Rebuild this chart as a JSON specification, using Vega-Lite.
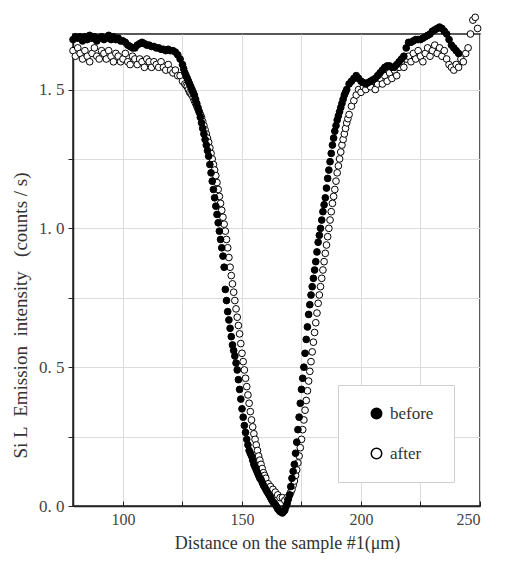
{
 "$schema": "https://vega.github.io/schema/vega-lite/v6.json",
 "width": 407, "height": 472,
 "autosize": "none",
 "padding": {"left": 73, "top": 34, "right": 37, "bottom": 59},
 "background": "white",
 "config": {"view": {"stroke": "#222", "strokeWidth": 1.5}, "font": "Liberation Serif"},
 "data": {"values": [
  {"distance":79,"intensity":1.64,"state":"after"},{"distance":80,"intensity":1.62,"state":"after"},{"distance":81,"intensity":1.65,"state":"after"},{"distance":82,"intensity":1.63,"state":"after"},{"distance":83,"intensity":1.61,"state":"after"},{"distance":84,"intensity":1.64,"state":"after"},{"distance":85,"intensity":1.62,"state":"after"},{"distance":86,"intensity":1.60,"state":"after"},{"distance":87,"intensity":1.63,"state":"after"},{"distance":88,"intensity":1.65,"state":"after"},{"distance":89,"intensity":1.62,"state":"after"},{"distance":90,"intensity":1.61,"state":"after"},{"distance":91,"intensity":1.64,"state":"after"},{"distance":92,"intensity":1.63,"state":"after"},{"distance":93,"intensity":1.61,"state":"after"},{"distance":94,"intensity":1.64,"state":"after"},{"distance":95,"intensity":1.62,"state":"after"},{"distance":96,"intensity":1.60,"state":"after"},{"distance":97,"intensity":1.63,"state":"after"},{"distance":98,"intensity":1.62,"state":"after"},{"distance":99,"intensity":1.60,"state":"after"},{"distance":100,"intensity":1.61,"state":"after"},{"distance":101,"intensity":1.63,"state":"after"},{"distance":102,"intensity":1.60,"state":"after"},{"distance":103,"intensity":1.59,"state":"after"},{"distance":104,"intensity":1.62,"state":"after"},{"distance":105,"intensity":1.61,"state":"after"},{"distance":106,"intensity":1.59,"state":"after"},{"distance":107,"intensity":1.61,"state":"after"},{"distance":108,"intensity":1.60,"state":"after"},{"distance":109,"intensity":1.58,"state":"after"},{"distance":110,"intensity":1.61,"state":"after"},{"distance":111,"intensity":1.60,"state":"after"},{"distance":112,"intensity":1.58,"state":"after"},{"distance":113,"intensity":1.60,"state":"after"},{"distance":114,"intensity":1.59,"state":"after"},{"distance":115,"intensity":1.58,"state":"after"},{"distance":116,"intensity":1.60,"state":"after"},{"distance":117,"intensity":1.58,"state":"after"},{"distance":118,"intensity":1.57,"state":"after"},{"distance":119,"intensity":1.59,"state":"after"},{"distance":120,"intensity":1.57,"state":"after"},{"distance":121,"intensity":1.56,"state":"after"},{"distance":122,"intensity":1.57,"state":"after"},{"distance":123,"intensity":1.55,"state":"after"},{"distance":124,"intensity":1.55,"state":"after"},{"distance":125,"intensity":1.53,"state":"after"},
  {"distance":126,"intensity":1.52,"state":"after"},{"distance":126.5,"intensity":1.515,"state":"after"},{"distance":127,"intensity":1.51,"state":"after"},{"distance":127.5,"intensity":1.50,"state":"after"},{"distance":128,"intensity":1.49,"state":"after"},{"distance":128.5,"intensity":1.485,"state":"after"},{"distance":129,"intensity":1.48,"state":"after"},{"distance":129.5,"intensity":1.47,"state":"after"},{"distance":130,"intensity":1.46,"state":"after"},{"distance":130.5,"intensity":1.45,"state":"after"},{"distance":131,"intensity":1.44,"state":"after"},{"distance":131.5,"intensity":1.43,"state":"after"},{"distance":132,"intensity":1.42,"state":"after"},{"distance":132.5,"intensity":1.41,"state":"after"},{"distance":133,"intensity":1.40,"state":"after"},{"distance":133.5,"intensity":1.385,"state":"after"},{"distance":134,"intensity":1.37,"state":"after"},{"distance":134.5,"intensity":1.355,"state":"after"},{"distance":135,"intensity":1.34,"state":"after"},{"distance":135.5,"intensity":1.325,"state":"after"},{"distance":136,"intensity":1.31,"state":"after"},{"distance":136.5,"intensity":1.29,"state":"after"},{"distance":137,"intensity":1.27,"state":"after"},{"distance":137.5,"intensity":1.25,"state":"after"},{"distance":138,"intensity":1.23,"state":"after"},{"distance":138.5,"intensity":1.21,"state":"after"},{"distance":139,"intensity":1.19,"state":"after"},{"distance":139.5,"intensity":1.165,"state":"after"},{"distance":140,"intensity":1.14,"state":"after"},{"distance":140.5,"intensity":1.115,"state":"after"},{"distance":141,"intensity":1.09,"state":"after"},{"distance":141.5,"intensity":1.065,"state":"after"},{"distance":142,"intensity":1.04,"state":"after"},{"distance":142.5,"intensity":1.015,"state":"after"},{"distance":143,"intensity":0.99,"state":"after"},{"distance":143.5,"intensity":0.96,"state":"after"},{"distance":144,"intensity":0.93,"state":"after"},{"distance":144.5,"intensity":0.895,"state":"after"},{"distance":145,"intensity":0.86,"state":"after"},{"distance":145.5,"intensity":0.83,"state":"after"},{"distance":146,"intensity":0.80,"state":"after"},{"distance":146.5,"intensity":0.77,"state":"after"},{"distance":147,"intensity":0.74,"state":"after"},{"distance":147.5,"intensity":0.71,"state":"after"},{"distance":148,"intensity":0.68,"state":"after"},{"distance":148.5,"intensity":0.65,"state":"after"},{"distance":149,"intensity":0.62,"state":"after"},{"distance":149.5,"intensity":0.585,"state":"after"},{"distance":150,"intensity":0.55,"state":"after"},{"distance":150.5,"intensity":0.52,"state":"after"},{"distance":151,"intensity":0.49,"state":"after"},{"distance":151.5,"intensity":0.46,"state":"after"},{"distance":152,"intensity":0.43,"state":"after"},{"distance":152.5,"intensity":0.40,"state":"after"},{"distance":153,"intensity":0.37,"state":"after"},{"distance":153.5,"intensity":0.34,"state":"after"},{"distance":154,"intensity":0.31,"state":"after"},{"distance":154.5,"intensity":0.285,"state":"after"},{"distance":155,"intensity":0.26,"state":"after"},{"distance":155.5,"intensity":0.24,"state":"after"},{"distance":156,"intensity":0.22,"state":"after"},{"distance":156.5,"intensity":0.20,"state":"after"},{"distance":157,"intensity":0.18,"state":"after"},{"distance":157.5,"intensity":0.165,"state":"after"},{"distance":158,"intensity":0.15,"state":"after"},{"distance":158.5,"intensity":0.135,"state":"after"},{"distance":159,"intensity":0.12,"state":"after"},{"distance":159.5,"intensity":0.11,"state":"after"},{"distance":160,"intensity":0.10,"state":"after"},{"distance":161,"intensity":0.08,"state":"after"},{"distance":162,"intensity":0.07,"state":"after"},{"distance":163,"intensity":0.06,"state":"after"},{"distance":164,"intensity":0.05,"state":"after"},{"distance":165,"intensity":0.04,"state":"after"},{"distance":166,"intensity":0.03,"state":"after"},{"distance":167,"intensity":0.03,"state":"after"},{"distance":168,"intensity":0.02,"state":"after"},{"distance":169,"intensity":0.03,"state":"after"},
  {"distance":170,"intensity":0.04,"state":"after"},{"distance":170.5,"intensity":0.05,"state":"after"},{"distance":171,"intensity":0.06,"state":"after"},{"distance":171.5,"intensity":0.075,"state":"after"},{"distance":172,"intensity":0.09,"state":"after"},{"distance":172.5,"intensity":0.11,"state":"after"},{"distance":173,"intensity":0.13,"state":"after"},{"distance":173.5,"intensity":0.155,"state":"after"},{"distance":174,"intensity":0.18,"state":"after"},{"distance":174.5,"intensity":0.21,"state":"after"},{"distance":175,"intensity":0.24,"state":"after"},{"distance":175.5,"intensity":0.275,"state":"after"},{"distance":176,"intensity":0.31,"state":"after"},{"distance":176.5,"intensity":0.345,"state":"after"},{"distance":177,"intensity":0.38,"state":"after"},{"distance":177.5,"intensity":0.415,"state":"after"},{"distance":178,"intensity":0.45,"state":"after"},{"distance":178.5,"intensity":0.485,"state":"after"},{"distance":179,"intensity":0.52,"state":"after"},{"distance":179.5,"intensity":0.555,"state":"after"},{"distance":180,"intensity":0.59,"state":"after"},{"distance":180.5,"intensity":0.625,"state":"after"},{"distance":181,"intensity":0.66,"state":"after"},{"distance":181.5,"intensity":0.695,"state":"after"},{"distance":182,"intensity":0.73,"state":"after"},{"distance":182.5,"intensity":0.76,"state":"after"},{"distance":183,"intensity":0.79,"state":"after"},{"distance":183.5,"intensity":0.82,"state":"after"},{"distance":184,"intensity":0.85,"state":"after"},{"distance":184.5,"intensity":0.88,"state":"after"},{"distance":185,"intensity":0.91,"state":"after"},{"distance":185.5,"intensity":0.94,"state":"after"},{"distance":186,"intensity":0.97,"state":"after"},{"distance":186.5,"intensity":1.00,"state":"after"},{"distance":187,"intensity":1.03,"state":"after"},{"distance":187.5,"intensity":1.06,"state":"after"},{"distance":188,"intensity":1.09,"state":"after"},{"distance":188.5,"intensity":1.115,"state":"after"},{"distance":189,"intensity":1.14,"state":"after"},{"distance":189.5,"intensity":1.17,"state":"after"},{"distance":190,"intensity":1.20,"state":"after"},{"distance":190.5,"intensity":1.225,"state":"after"},{"distance":191,"intensity":1.25,"state":"after"},{"distance":191.5,"intensity":1.275,"state":"after"},{"distance":192,"intensity":1.30,"state":"after"},{"distance":192.5,"intensity":1.32,"state":"after"},{"distance":193,"intensity":1.34,"state":"after"},{"distance":193.5,"intensity":1.36,"state":"after"},{"distance":194,"intensity":1.38,"state":"after"},{"distance":194.5,"intensity":1.395,"state":"after"},{"distance":195,"intensity":1.41,"state":"after"},{"distance":196,"intensity":1.44,"state":"after"},{"distance":197,"intensity":1.46,"state":"after"},{"distance":198,"intensity":1.48,"state":"after"},{"distance":199,"intensity":1.50,"state":"after"},{"distance":200,"intensity":1.49,"state":"after"},{"distance":201,"intensity":1.51,"state":"after"},{"distance":202,"intensity":1.50,"state":"after"},{"distance":203,"intensity":1.52,"state":"after"},{"distance":204,"intensity":1.51,"state":"after"},{"distance":205,"intensity":1.53,"state":"after"},{"distance":206,"intensity":1.50,"state":"after"},{"distance":207,"intensity":1.52,"state":"after"},{"distance":208,"intensity":1.54,"state":"after"},{"distance":209,"intensity":1.52,"state":"after"},{"distance":210,"intensity":1.55,"state":"after"},{"distance":211,"intensity":1.53,"state":"after"},{"distance":212,"intensity":1.56,"state":"after"},{"distance":213,"intensity":1.54,"state":"after"},{"distance":214,"intensity":1.57,"state":"after"},{"distance":215,"intensity":1.55,"state":"after"},{"distance":216,"intensity":1.58,"state":"after"},{"distance":217,"intensity":1.60,"state":"after"},{"distance":218,"intensity":1.58,"state":"after"},{"distance":219,"intensity":1.61,"state":"after"},{"distance":220,"intensity":1.62,"state":"after"},{"distance":221,"intensity":1.60,"state":"after"},{"distance":222,"intensity":1.63,"state":"after"},{"distance":223,"intensity":1.61,"state":"after"},{"distance":224,"intensity":1.64,"state":"after"},{"distance":225,"intensity":1.62,"state":"after"},{"distance":226,"intensity":1.60,"state":"after"},{"distance":227,"intensity":1.63,"state":"after"},{"distance":228,"intensity":1.65,"state":"after"},{"distance":229,"intensity":1.62,"state":"after"},{"distance":230,"intensity":1.64,"state":"after"},{"distance":231,"intensity":1.66,"state":"after"},{"distance":232,"intensity":1.63,"state":"after"},{"distance":233,"intensity":1.65,"state":"after"},{"distance":234,"intensity":1.62,"state":"after"},{"distance":235,"intensity":1.64,"state":"after"},{"distance":236,"intensity":1.61,"state":"after"},{"distance":237,"intensity":1.59,"state":"after"},{"distance":238,"intensity":1.58,"state":"after"},{"distance":239,"intensity":1.57,"state":"after"},{"distance":240,"intensity":1.59,"state":"after"},{"distance":241,"intensity":1.58,"state":"after"},{"distance":242,"intensity":1.61,"state":"after"},{"distance":243,"intensity":1.60,"state":"after"},{"distance":244,"intensity":1.63,"state":"after"},{"distance":245,"intensity":1.65,"state":"after"},{"distance":246,"intensity":1.70,"state":"after"},{"distance":247,"intensity":1.75,"state":"after"},{"distance":248,"intensity":1.76,"state":"after"},{"distance":249,"intensity":1.72,"state":"after"},
  {"distance":79,"intensity":1.68,"state":"before"},{"distance":80,"intensity":1.69,"state":"before"},{"distance":81,"intensity":1.685,"state":"before"},{"distance":82,"intensity":1.69,"state":"before"},{"distance":83,"intensity":1.675,"state":"before"},{"distance":84,"intensity":1.69,"state":"before"},{"distance":85,"intensity":1.68,"state":"before"},{"distance":86,"intensity":1.695,"state":"before"},{"distance":87,"intensity":1.685,"state":"before"},{"distance":88,"intensity":1.69,"state":"before"},{"distance":89,"intensity":1.675,"state":"before"},{"distance":90,"intensity":1.685,"state":"before"},{"distance":91,"intensity":1.69,"state":"before"},{"distance":92,"intensity":1.68,"state":"before"},{"distance":93,"intensity":1.685,"state":"before"},{"distance":94,"intensity":1.695,"state":"before"},{"distance":95,"intensity":1.68,"state":"before"},{"distance":96,"intensity":1.69,"state":"before"},{"distance":97,"intensity":1.68,"state":"before"},{"distance":98,"intensity":1.685,"state":"before"},{"distance":99,"intensity":1.675,"state":"before"},{"distance":100,"intensity":1.675,"state":"before"},{"distance":101,"intensity":1.67,"state":"before"},{"distance":102,"intensity":1.66,"state":"before"},{"distance":103,"intensity":1.655,"state":"before"},{"distance":104,"intensity":1.65,"state":"before"},{"distance":105,"intensity":1.65,"state":"before"},{"distance":106,"intensity":1.66,"state":"before"},{"distance":107,"intensity":1.665,"state":"before"},{"distance":108,"intensity":1.67,"state":"before"},{"distance":109,"intensity":1.665,"state":"before"},{"distance":110,"intensity":1.66,"state":"before"},{"distance":111,"intensity":1.66,"state":"before"},{"distance":112,"intensity":1.655,"state":"before"},{"distance":113,"intensity":1.655,"state":"before"},{"distance":114,"intensity":1.65,"state":"before"},{"distance":115,"intensity":1.65,"state":"before"},{"distance":116,"intensity":1.645,"state":"before"},{"distance":117,"intensity":1.645,"state":"before"},{"distance":118,"intensity":1.64,"state":"before"},{"distance":119,"intensity":1.645,"state":"before"},{"distance":120,"intensity":1.64,"state":"before"},{"distance":121,"intensity":1.64,"state":"before"},{"distance":122,"intensity":1.635,"state":"before"},{"distance":123,"intensity":1.625,"state":"before"},{"distance":124,"intensity":1.61,"state":"before"},
  {"distance":125,"intensity":1.59,"state":"before"},{"distance":125.5,"intensity":1.575,"state":"before"},{"distance":126,"intensity":1.56,"state":"before"},{"distance":126.5,"intensity":1.55,"state":"before"},{"distance":127,"intensity":1.54,"state":"before"},{"distance":127.5,"intensity":1.53,"state":"before"},{"distance":128,"intensity":1.52,"state":"before"},{"distance":128.5,"intensity":1.51,"state":"before"},{"distance":129,"intensity":1.50,"state":"before"},{"distance":129.5,"intensity":1.49,"state":"before"},{"distance":130,"intensity":1.48,"state":"before"},{"distance":130.5,"intensity":1.465,"state":"before"},{"distance":131,"intensity":1.45,"state":"before"},{"distance":131.5,"intensity":1.435,"state":"before"},{"distance":132,"intensity":1.42,"state":"before"},{"distance":132.5,"intensity":1.40,"state":"before"},{"distance":133,"intensity":1.38,"state":"before"},{"distance":133.5,"intensity":1.36,"state":"before"},{"distance":134,"intensity":1.34,"state":"before"},{"distance":134.5,"intensity":1.32,"state":"before"},{"distance":135,"intensity":1.30,"state":"before"},{"distance":135.5,"intensity":1.28,"state":"before"},{"distance":136,"intensity":1.26,"state":"before"},{"distance":136.5,"intensity":1.23,"state":"before"},{"distance":137,"intensity":1.20,"state":"before"},{"distance":137.5,"intensity":1.17,"state":"before"},{"distance":138,"intensity":1.14,"state":"before"},{"distance":138.5,"intensity":1.11,"state":"before"},{"distance":139,"intensity":1.08,"state":"before"},{"distance":139.5,"intensity":1.05,"state":"before"},{"distance":140,"intensity":1.02,"state":"before"},{"distance":140.5,"intensity":0.99,"state":"before"},{"distance":141,"intensity":0.96,"state":"before"},{"distance":141.5,"intensity":0.93,"state":"before"},{"distance":142,"intensity":0.90,"state":"before"},{"distance":142.5,"intensity":0.86,"state":"before"},{"distance":143,"intensity":0.78,"state":"before"},{"distance":143.5,"intensity":0.74,"state":"before"},{"distance":144,"intensity":0.70,"state":"before"},{"distance":144.5,"intensity":0.67,"state":"before"},{"distance":145,"intensity":0.64,"state":"before"},{"distance":145.5,"intensity":0.61,"state":"before"},{"distance":146,"intensity":0.58,"state":"before"},{"distance":146.5,"intensity":0.56,"state":"before"},{"distance":147,"intensity":0.54,"state":"before"},{"distance":147.5,"intensity":0.515,"state":"before"},{"distance":148,"intensity":0.49,"state":"before"},{"distance":148.5,"intensity":0.455,"state":"before"},{"distance":149,"intensity":0.42,"state":"before"},{"distance":149.5,"intensity":0.385,"state":"before"},{"distance":150,"intensity":0.35,"state":"before"},{"distance":150.5,"intensity":0.32,"state":"before"},{"distance":151,"intensity":0.29,"state":"before"},{"distance":151.5,"intensity":0.265,"state":"before"},{"distance":152,"intensity":0.24,"state":"before"},{"distance":152.5,"intensity":0.22,"state":"before"},{"distance":153,"intensity":0.20,"state":"before"},{"distance":153.5,"intensity":0.19,"state":"before"},{"distance":154,"intensity":0.18,"state":"before"},{"distance":154.5,"intensity":0.165,"state":"before"},{"distance":155,"intensity":0.15,"state":"before"},{"distance":155.5,"intensity":0.14,"state":"before"},{"distance":156,"intensity":0.13,"state":"before"},{"distance":156.5,"intensity":0.12,"state":"before"},{"distance":157,"intensity":0.11,"state":"before"},{"distance":157.5,"intensity":0.10,"state":"before"},{"distance":158,"intensity":0.095,"state":"before"},{"distance":158.5,"intensity":0.085,"state":"before"},{"distance":159,"intensity":0.075,"state":"before"},{"distance":159.5,"intensity":0.068,"state":"before"},{"distance":160,"intensity":0.06,"state":"before"},{"distance":160.5,"intensity":0.052,"state":"before"},{"distance":161,"intensity":0.045,"state":"before"},{"distance":161.5,"intensity":0.038,"state":"before"},{"distance":162,"intensity":0.03,"state":"before"},{"distance":162.5,"intensity":0.022,"state":"before"},{"distance":163,"intensity":0.015,"state":"before"},{"distance":163.5,"intensity":0.01,"state":"before"},{"distance":164,"intensity":0.005,"state":"before"},{"distance":164.5,"intensity":-0.002,"state":"before"},{"distance":165,"intensity":-0.01,"state":"before"},{"distance":165.5,"intensity":-0.015,"state":"before"},{"distance":166,"intensity":-0.02,"state":"before"},{"distance":166.5,"intensity":-0.022,"state":"before"},{"distance":167,"intensity":-0.025,"state":"before"},{"distance":167.5,"intensity":-0.02,"state":"before"},{"distance":168,"intensity":-0.015,"state":"before"},{"distance":168.5,"intensity":-0.002,"state":"before"},{"distance":169,"intensity":0.01,"state":"before"},{"distance":169.5,"intensity":0.025,"state":"before"},{"distance":170,"intensity":0.04,"state":"before"},{"distance":170.5,"intensity":0.07,"state":"before"},{"distance":171,"intensity":0.10,"state":"before"},{"distance":171.5,"intensity":0.125,"state":"before"},{"distance":172,"intensity":0.15,"state":"before"},{"distance":172.5,"intensity":0.19,"state":"before"},{"distance":173,"intensity":0.23,"state":"before"},{"distance":173.5,"intensity":0.275,"state":"before"},{"distance":174,"intensity":0.32,"state":"before"},{"distance":174.5,"intensity":0.37,"state":"before"},{"distance":175,"intensity":0.42,"state":"before"},{"distance":175.5,"intensity":0.46,"state":"before"},{"distance":176,"intensity":0.50,"state":"before"},{"distance":176.5,"intensity":0.55,"state":"before"},{"distance":177,"intensity":0.60,"state":"before"},{"distance":177.5,"intensity":0.645,"state":"before"},{"distance":178,"intensity":0.69,"state":"before"},{"distance":178.5,"intensity":0.725,"state":"before"},{"distance":179,"intensity":0.76,"state":"before"},{"distance":179.5,"intensity":0.79,"state":"before"},{"distance":180,"intensity":0.82,"state":"before"},{"distance":180.5,"intensity":0.85,"state":"before"},{"distance":181,"intensity":0.88,"state":"before"},{"distance":181.5,"intensity":0.915,"state":"before"},{"distance":182,"intensity":0.95,"state":"before"},{"distance":182.5,"intensity":0.975,"state":"before"},{"distance":183,"intensity":1.00,"state":"before"},{"distance":183.5,"intensity":1.03,"state":"before"},{"distance":184,"intensity":1.06,"state":"before"},{"distance":184.5,"intensity":1.085,"state":"before"},{"distance":185,"intensity":1.11,"state":"before"},{"distance":185.5,"intensity":1.145,"state":"before"},{"distance":186,"intensity":1.18,"state":"before"},{"distance":186.5,"intensity":1.21,"state":"before"},{"distance":187,"intensity":1.24,"state":"before"},{"distance":187.5,"intensity":1.27,"state":"before"},{"distance":188,"intensity":1.30,"state":"before"},{"distance":188.5,"intensity":1.325,"state":"before"},{"distance":189,"intensity":1.35,"state":"before"},{"distance":189.5,"intensity":1.37,"state":"before"},{"distance":190,"intensity":1.39,"state":"before"},{"distance":190.5,"intensity":1.405,"state":"before"},{"distance":191,"intensity":1.42,"state":"before"},{"distance":191.5,"intensity":1.435,"state":"before"},{"distance":192,"intensity":1.45,"state":"before"},{"distance":192.5,"intensity":1.465,"state":"before"},{"distance":193,"intensity":1.48,"state":"before"},{"distance":193.5,"intensity":1.49,"state":"before"},{"distance":194,"intensity":1.50,"state":"before"},{"distance":195,"intensity":1.52,"state":"before"},{"distance":196,"intensity":1.53,"state":"before"},{"distance":197,"intensity":1.54,"state":"before"},{"distance":198,"intensity":1.55,"state":"before"},{"distance":199,"intensity":1.54,"state":"before"},{"distance":200,"intensity":1.53,"state":"before"},{"distance":201,"intensity":1.525,"state":"before"},{"distance":202,"intensity":1.52,"state":"before"},{"distance":203,"intensity":1.525,"state":"before"},{"distance":204,"intensity":1.53,"state":"before"},{"distance":205,"intensity":1.535,"state":"before"},{"distance":206,"intensity":1.54,"state":"before"},{"distance":207,"intensity":1.55,"state":"before"},{"distance":208,"intensity":1.56,"state":"before"},{"distance":209,"intensity":1.57,"state":"before"},{"distance":210,"intensity":1.58,"state":"before"},{"distance":211,"intensity":1.585,"state":"before"},{"distance":212,"intensity":1.585,"state":"before"},{"distance":213,"intensity":1.58,"state":"before"},{"distance":214,"intensity":1.58,"state":"before"},{"distance":215,"intensity":1.59,"state":"before"},{"distance":216,"intensity":1.60,"state":"before"},{"distance":217,"intensity":1.61,"state":"before"},{"distance":218,"intensity":1.62,"state":"before"},{"distance":219,"intensity":1.65,"state":"before"},{"distance":220,"intensity":1.67,"state":"before"},{"distance":221,"intensity":1.67,"state":"before"},{"distance":222,"intensity":1.675,"state":"before"},{"distance":223,"intensity":1.68,"state":"before"},{"distance":224,"intensity":1.68,"state":"before"},{"distance":225,"intensity":1.68,"state":"before"},{"distance":226,"intensity":1.685,"state":"before"},{"distance":227,"intensity":1.69,"state":"before"},{"distance":228,"intensity":1.695,"state":"before"},{"distance":229,"intensity":1.70,"state":"before"},{"distance":230,"intensity":1.71,"state":"before"},{"distance":231,"intensity":1.715,"state":"before"},{"distance":232,"intensity":1.72,"state":"before"},{"distance":233,"intensity":1.725,"state":"before"},{"distance":234,"intensity":1.72,"state":"before"},{"distance":235,"intensity":1.71,"state":"before"},{"distance":236,"intensity":1.70,"state":"before"},{"distance":237,"intensity":1.68,"state":"before"},{"distance":238,"intensity":1.66,"state":"before"},{"distance":239,"intensity":1.65,"state":"before"},{"distance":240,"intensity":1.64,"state":"before"},{"distance":241,"intensity":1.63,"state":"before"}
 ]},
 "mark": {"type": "circle", "size": 45, "stroke": "black", "strokeWidth": 1, "opacity": 1},
 "encoding": {
  "x": {"field": "distance", "type": "quantitative",
   "scale": {"domain": [79, 250], "nice": false, "zero": false},
   "axis": {"title": "Distance on the sample #1(μm)", "values": [100,125,150,175,200,225,250],
    "labelExpr": "datum.value % 50 == 0 ? datum.label : ''",
    "grid": true, "gridColor": "#dcdcdc", "tickSize": -5, "tickColor": "#222", "domainColor": "#222", "domainWidth": 1.5,
    "labelFont": "Liberation Serif", "labelFontSize": 16, "labelColor": "#444", "labelPadding": 10,
    "titleFont": "Liberation Serif", "titleFontSize": 18, "titleFontWeight": "normal", "titleColor": "#333", "titlePadding": 7, "titleX": 214}},
  "y": {"field": "intensity", "type": "quantitative",
   "scale": {"domain": [0, 1.7], "nice": false},
   "axis": {"title": "Si L\u00a0\u00a0Emission\u00a0\u00a0intensity\u00a0\u00a0\u00a0(counts / s)", "values": [0,0.25,0.5,0.75,1,1.25,1.5],
    "labelExpr": "(datum.value*2) % 1 == 0 ? replace(format(datum.value, '.1f'), '.', '. ') : ''",
    "grid": true, "gridColor": "#dcdcdc", "tickSize": 5, "tickColor": "#222", "domainColor": "#222", "domainWidth": 1.5,
    "labelFont": "Liberation Serif", "labelFontSize": 17, "labelColor": "#444", "labelPadding": 4,
    "titleFont": "Liberation Serif", "titleFontSize": 19, "titleFontWeight": "normal", "titleColor": "#333", "titlePadding": 8, "titleY": 281}},
  "fill": {"field": "state", "type": "nominal",
   "scale": {"domain": ["before", "after"], "range": ["black", "white"]},
   "legend": {"title": null, "orient": "none", "legendX": 265, "legendY": 351, "padding": 20,
    "symbolType": "circle", "symbolSize": 110, "symbolStrokeColor": "black", "symbolStrokeWidth": 1.5,
    "symbolOffset": 10, "labelOffset": 5, "rowPadding": 22,
    "labelFont": "Liberation Serif", "labelFontSize": 17, "labelColor": "#333",
    "fillColor": "white", "strokeColor": "#d0d0d0"}}
 }
}
